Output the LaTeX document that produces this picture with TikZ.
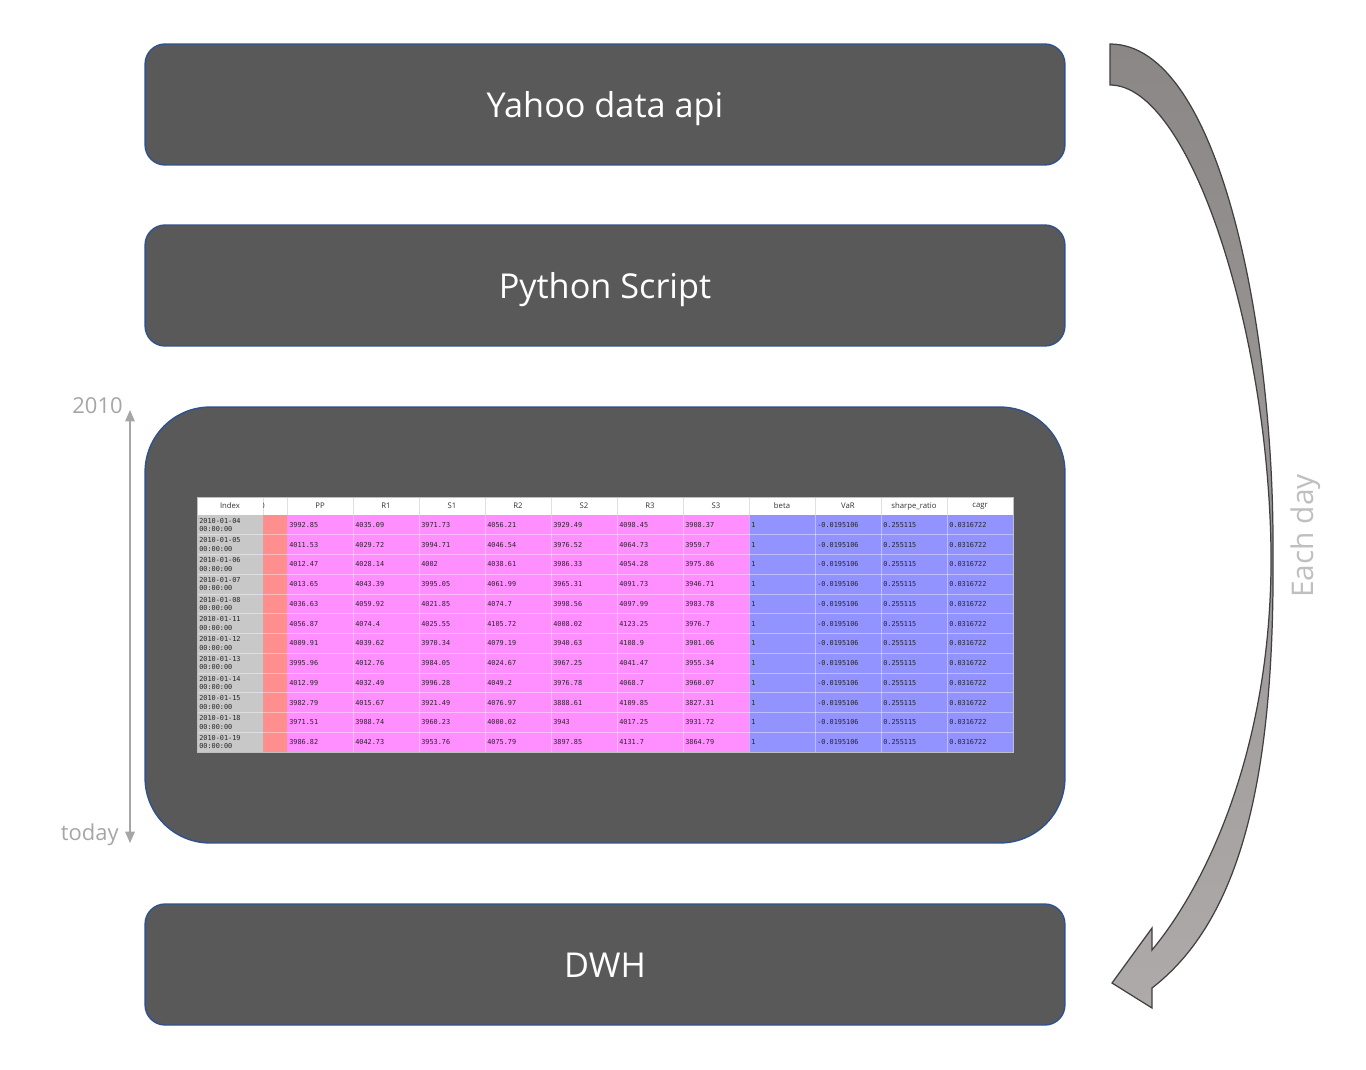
\documentclass[tikz,border=0pt]{standalone}
\usepackage{fontspec}
\setmainfont{Open Sans}
\newfontfamily\tablemono{DejaVu Sans Mono}
\usetikzlibrary{arrows.meta}

\definecolor{boxgray}{HTML}{595959}
\definecolor{boxedge}{HTML}{2F528F}
\definecolor{idxgray}{HTML}{C8C8C8}
\definecolor{zerored}{HTML}{FF8F8F}
\definecolor{pivpink}{HTML}{FF8FFF}
\definecolor{riskblue}{HTML}{9393FF}
\definecolor{timegray}{HTML}{A6A6A6}
\definecolor{daygray}{HTML}{BFBFBF}
\definecolor{arrowtop}{HTML}{8A8786}
\definecolor{arrowbot}{HTML}{ADAAA9}
\definecolor{arrowedge}{HTML}{404040}

\tikzset{
  stage/.style={draw=boxedge, line width=0.8pt, fill=boxgray,
    rounded corners=0.4cm, minimum width=18.4cm, minimum height=2.42cm,
    text height=15pt, text depth=0pt,
    text=white, font=\fontsize{19.5}{23}\selectfont},
  headcell/.style={inner sep=0pt, text=black!80, font=\fontsize{4.4}{5}\selectfont},
  idxcell/.style={anchor=west, inner sep=0pt, align=left, text=black!85,
    font=\tablemono\fontsize{3.9}{4.9}\selectfont},
  valcell/.style={anchor=west, inner sep=0pt, text=black!85,
    font=\tablemono\fontsize{3.9}{4.9}\selectfont},
  timelabel/.style={anchor=east, inner sep=0pt, text=timegray,
    font=\fontsize{12.5}{15}\selectfont}
}

\begin{document}
\begin{tikzpicture}[x=0.02cm, y=-0.02cm]
\useasboundingbox (0,0) rectangle (1366,1069);

% Stages
\node[stage] (yahoo) at (605,104.5) {Yahoo data api};
\node[stage] (python) at (605,285.5) {Python Script};
\node[stage, rounded corners=1.3cm, minimum height=8.72cm] (store) at (605,625) {};
\node[stage] (dwh) at (605,964.5) {DWH};

% Table: column fills
\fill[white] (197,497) rectangle (1013,515);
\fill[idxgray] (197,515) rectangle (263,752);
\fill[zerored] (263,515) rectangle (287,752);
\fill[pivpink] (287,515) rectangle (749,752);
\fill[riskblue] (749,515) rectangle (1013,752);

% Table: grid
\foreach \gx in {263,287,353,419,485,551,617,683,749,815,881,947}
  \draw[black!12, line width=0.3pt] (\gx,497) -- (\gx,515);
\foreach \gx in {353,419,485,551,617,683,749,815,881,947}
  \draw[white, opacity=0.4, line width=0.3pt] (\gx,515) -- (\gx,752);
\foreach \r in {1,...,11}
  \draw[white, opacity=0.4, line width=0.3pt] (197,{515+19.75*\r}) -- (1013,{515+19.75*\r});
\draw[black!25, line width=0.3pt] (197,497) rectangle (1013,752);

% Table: header
\node[headcell] (h-idx) at (230,506) {Index};
\begin{scope}
  \clip (263,497) rectangle (287,515);
  \node[headcell] (h-zero) at (262.5,506) {0};
\end{scope}
\foreach \hd [count=\k from 0] in {PP,R1,S1,R2,S2,R3,S3,beta,VaR,sharpe\_ratio,cagr}
  \node[headcell] (h-\k) at ({320+66*\k},506) {\hd};

% Table: rows
\foreach \dd/\vpp/\vra/\vsa/\vrb/\vsb/\vrc/\vsc [count=\i from 0] in {
  04/3992.85/4035.09/3971.73/4056.21/3929.49/4098.45/3908.37,
  05/4011.53/4029.72/3994.71/4046.54/3976.52/4064.73/3959.7,
  06/4012.47/4028.14/4002/4038.61/3986.33/4054.28/3975.86,
  07/4013.65/4043.39/3995.05/4061.99/3965.31/4091.73/3946.71,
  08/4036.63/4059.92/4021.85/4074.7/3998.56/4097.99/3983.78,
  11/4056.87/4074.4/4025.55/4105.72/4008.02/4123.25/3976.7,
  12/4009.91/4039.62/3970.34/4079.19/3940.63/4108.9/3901.06,
  13/3995.96/4012.76/3984.05/4024.67/3967.25/4041.47/3955.34,
  14/4012.99/4032.49/3996.28/4049.2/3976.78/4068.7/3960.07,
  15/3982.79/4015.67/3921.49/4076.97/3888.61/4109.85/3827.31,
  18/3971.51/3988.74/3960.23/4000.02/3943/4017.25/3931.72,
  19/3986.82/4042.73/3953.76/4075.79/3897.85/4131.7/3864.79}
{
  \node[idxcell] (d-\i) at (199,{524.875+19.75*\i}) {2010-01-\dd\\00:00:00};
  \foreach \v [count=\k from 0] in {\vpp,\vra,\vsa,\vrb,\vsb,\vrc,\vsc}
    \node[valcell] (v-\i-\k) at ({289+66*\k},{524.875+19.75*\i}) {\v};
  \foreach \v [count=\k from 7] in {1,-0.0195106,0.255115,0.0316722}
    \node[valcell] (v-\i-\k) at ({289+66*\k},{524.875+19.75*\i}) {\v};
}

% Timeline
\coordinate (t-top) at (130,410);
\coordinate (t-bot) at (130,843);
\draw[timegray, line width=0.6pt,
  {Triangle[width=5.5pt,length=6.5pt]}-{Triangle[width=5.5pt,length=6.5pt]}] (t-top) -- (t-bot);
\node[timelabel] (l-start) at (123,406) {2010};
\node[timelabel] (l-end) at (119,835) {today};

% Curved arrow: each day
\path[draw=arrowedge, line width=0.7pt, top color=arrowtop, bottom color=arrowbot]
  (1110,44) .. controls (1220,44) and (1274,330) .. (1273,550)
  .. controls (1275,780) and (1240,920) .. (1152,988)
  -- (1152,1008) -- (1112,983) -- (1152,928) -- (1152,950)
  .. controls (1210,880) and (1273,740) .. (1271,550)
  .. controls (1268,330) and (1190,85) .. (1110,85) -- cycle;
\node[rotate=90, text=daygray, font=\fontsize{17}{20}\selectfont] (each) at (1306,536) {Each day};

\end{tikzpicture}
\end{document}
